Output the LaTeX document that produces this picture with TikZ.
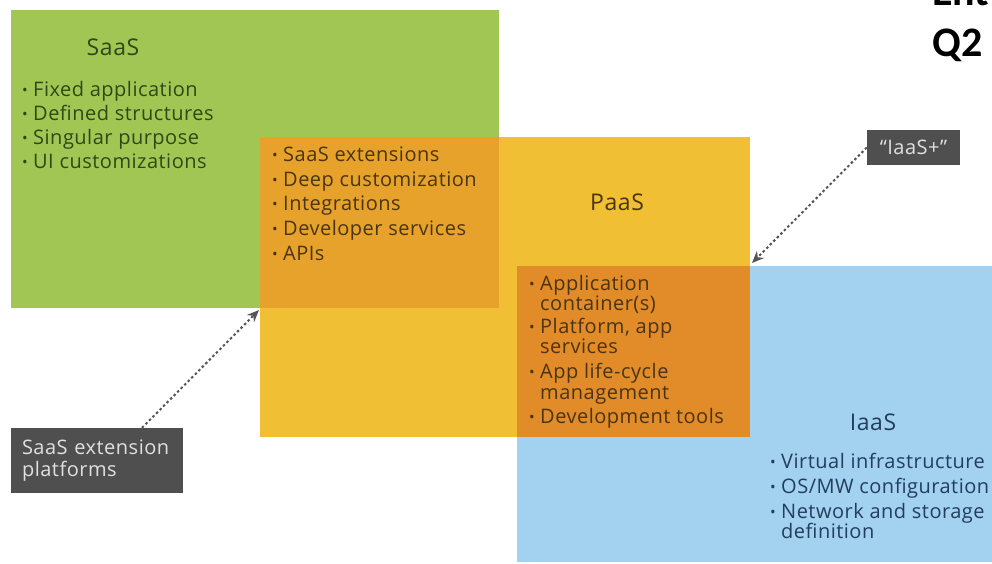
\documentclass[tikz,border=0pt]{standalone}
\usepackage{fontspec}
\setmainfont[LetterSpace=2.5]{Open Sans}
\newfontfamily\headfont{Carlito}
\usetikzlibrary{arrows.meta}
\definecolor{saasgreen}{HTML}{A2C653}
\definecolor{paasyellow}{HTML}{F1BF34}
\definecolor{iaasblue}{HTML}{A3D1F0}
\definecolor{overA}{HTML}{E7A22C}
\definecolor{overB}{HTML}{E28B29}
\definecolor{lblgray}{HTML}{4F4F4F}
\definecolor{txtgreen}{HTML}{2F4818}
\definecolor{txtbrown}{HTML}{4A3412}
\definecolor{txtblue}{HTML}{223E5C}
\definecolor{arrowgray}{HTML}{555555}
\newcommand\bul{\makebox[11pt][l]{\raisebox{0.6pt}{\fontsize{15}{15}\selectfont\textbullet}}}
\tikzset{
  item/.style={anchor=base west, inner sep=0pt, font=\fontsize{20}{22}\selectfont},
  ttl/.style={anchor=base, inner sep=0pt, font=\fontsize{23}{26}\selectfont},
  lbl/.style={fill=lblgray, text=white!88!black, inner sep=0pt, font=\fontsize{20}{22}\selectfont},
  dotarrow/.style={draw=arrowgray, line width=2pt, dash pattern=on 2.5pt off 2.5pt, -{Stealth[length=12pt,width=10pt]}},
}
\begin{document}
\begin{tikzpicture}[x=1pt,y=-1pt]
\useasboundingbox (0,0) rectangle (992,563);
% regions
\fill[saasgreen] (11,10) rectangle (499,308);
\fill[iaasblue] (517,266) rectangle (992,562);
\fill[paasyellow] (260,137) rectangle (750,437);
\fill[overA] (260,137) rectangle (499,308);
\fill[overB] (517,266) rectangle (750,437);
% SaaS
\node[ttl, text=txtgreen] (saas) at (113,55) {SaaS};
\begin{scope}[every node/.style={item, text=txtgreen}]
\node (s1) at (22,96) {\bul Fixed application};
\node (s2) at (22,120) {\bul Defined structures};
\node (s3) at (22,144) {\bul Singular purpose};
\node (s4) at (22,168) {\bul UI customizations};
\end{scope}
% SaaS/PaaS overlap
\begin{scope}[every node/.style={item, text=txtbrown}]
\node (o1) at (272,161) {\bul SaaS extensions};
\node (o2) at (272,186) {\bul Deep customization};
\node (o3) at (272,210) {\bul Integrations};
\node (o4) at (272,235) {\bul Developer services};
\node (o5) at (272,260) {\bul APIs};
\end{scope}
% PaaS
\node[ttl, text=txtbrown] (paas) at (617,210) {PaaS};
\begin{scope}[every node/.style={item, text=txtbrown}]
\node (p1) at (529,290) {\bul Application};
\node (p1b) at (540,310) {container(s)};
\node (p2) at (529,333) {\bul Platform, app};
\node (p2b) at (540,353) {services};
\node (p3) at (529,378) {\bul App life-cycle};
\node (p3b) at (540,399) {management};
\node (p4) at (529,423) {\bul Development tools};
\end{scope}
% IaaS
\node[ttl, text=txtblue] (iaas) at (873,430) {IaaS};
\begin{scope}[every node/.style={item, text=txtblue}]
\node (i1) at (770,468) {\bul Virtual infrastructure};
\node (i2) at (770,493) {\bul OS/MW configuration};
\node (i3) at (770,518) {\bul Network and storage};
\node (i3b) at (781,538) {definition};
\end{scope}
% labels
\node[lbl, minimum width=93pt, minimum height=35pt] (iplus) at (913.5,147.5) {“IaaS+”};
\node[lbl, minimum width=172pt, minimum height=65pt, align=left, text width=150pt] (sext) at (97,460.5) {SaaS extension\\platforms};
% arrow targets
\coordinate (tgtA) at (259,310);
\coordinate (tgtB) at (752,263);
\draw[dotarrow] (sext.north -| 142,0) -- (tgtA);
\draw[dotarrow] (iplus.west) -- (tgtB);
% corner heading
\node[anchor=base west, inner sep=0pt, font=\headfont\bfseries\fontsize{42}{50}\selectfont] (ent) at (932,5) {Ent};
\node[anchor=base west, inner sep=0pt, font=\headfont\bfseries\fontsize{42}{50}\selectfont] (q2) at (932,56) {Q2};
\end{tikzpicture}
\end{document}
